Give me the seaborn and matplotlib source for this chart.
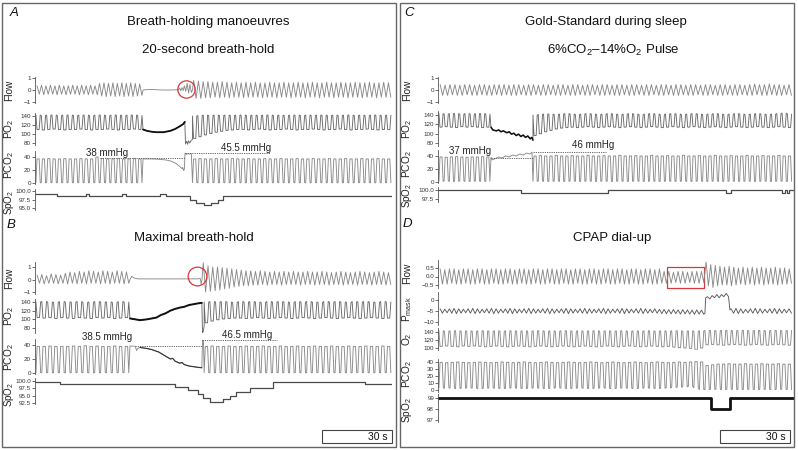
import numpy as np
import pandas as pd
import matplotlib
matplotlib.use("Agg")
import matplotlib.pyplot as plt
import seaborn as sns
from matplotlib.patches import Rectangle

# ---------------- DATA (time in s) ----------------
# Panel A: 20-second breath-hold
flowA_pre_hi = [0.35, 0.4, 0.35, 0.4, 0.35, 0.4, 0.35, 0.35, 0.4, 0.35, 0.4, 0.35, 0.4, 0.35,
                0.55, 0.6, 0.55, 0.6, 0.55, 0.6, 0.55, 0.6, 0.55, 0.5]
flowA_pre_lo = [-0.35, -0.4, -0.35, -0.35, -0.4, -0.35, -0.4, -0.35, -0.35, -0.4, -0.35, -0.4, -0.35, -0.4,
                -0.5, -0.55, -0.5, -0.55, -0.5, -0.55, -0.5, -0.55, -0.5, -0.45]
flowA_hold_t = [46.3, 48, 50, 52, 55, 58, 61.5, 62, 62.5, 63, 63.5, 64, 64.6, 65.2, 65.8, 66.4, 67, 67.5]
flowA_hold_v = [0, 0.03, 0.05, 0.02, 0.0, 0.0, 0.02, 0.15, -0.05, 0.2, -0.05, 0.35, -0.1, 0.55, -0.25, 0.45, -0.2, 0.0]
flowA_post_hi = [0.8, 0.75, 0.7, 0.7, 0.65, 0.65,
                 0.7, 0.65, 0.6, 0.65, 0.6, 0.65,
                 0.6, 0.65, 0.6, 0.6, 0.65, 0.6,
                 0.6, 0.65, 0.6, 0.6, 0.65, 0.6,
                 0.6, 0.65, 0.6, 0.6, 0.65, 0.6,
                 0.6, 0.65, 0.6, 0.6, 0.65, 0.6,
                 0.6, 0.65, 0.6, 0.6, 0.65, 0.6]
flowA_post_lo = [-0.7, -0.7, -0.65, -0.65, -0.6, -0.65,
                 -0.6, -0.65, -0.6, -0.6, -0.65, -0.6,
                 -0.6, -0.6, -0.65, -0.6, -0.6, -0.65,
                 -0.6, -0.6, -0.65, -0.6, -0.6, -0.65,
                 -0.6, -0.6, -0.65, -0.6, -0.6, -0.65,
                 -0.6, -0.6, -0.65, -0.6, -0.6, -0.65,
                 -0.6, -0.6, -0.65, -0.6, -0.6, -0.6]

po2A_pre_hi = [142, 141, 142, 142, 141, 142, 142, 141, 142, 142, 141, 142, 142, 141, 142, 142, 141, 142, 142, 141]
po2A_pre_lo = [110, 109, 110, 111, 110, 109, 110, 110, 111, 110, 109, 110, 110, 111, 110, 109, 110, 110, 111, 110]
po2A_hold_t = [46.3, 48, 50, 52, 55, 58, 60, 62, 63.5, 64.2, 64.5, 65.0, 65.4, 65.8, 66.3, 67.0, 67.5]
po2A_hold_v = [110, 107, 105, 104, 104, 107, 111, 117, 122, 127, 78, 84, 77, 85, 80, 86, 88]
po2A_post_hi = [140, 141, 142, 141, 142, 141,
                142, 141, 142, 142, 141, 142,
                141, 142, 142, 141, 142, 141,
                142, 142, 141, 142, 141, 142,
                142, 141, 142, 141, 142, 142,
                141, 142, 141, 142, 142, 141,
                142]
po2A_post_lo = [90, 94, 98, 101, 104, 106,
                108, 109, 110, 110, 109, 110,
                111, 110, 109, 110, 110, 111,
                110, 109, 110, 110, 111, 110,
                109, 110, 110, 111, 110, 109,
                110, 110, 111, 110, 109, 110,
                110]

pco2A_pre_hi = [37, 37, 37.5, 37, 37, 37.5, 37, 37, 37.5, 37, 37, 40, 37.5, 37, 37, 37.5, 37, 37, 37.5, 37]
pco2A_pre_lo = [0.5, 0.3, 0.5, 0.4, 0.5, 0.3, 0.5, 0.4, 0.5, 0.3, 0.5, 0.4, 0.5, 0.3, 0.5, 0.4, 0.5, 0.3, 0.5, 0.4]
pco2A_hold_t = [46.3, 50, 53, 56, 58, 60, 61.5, 62.5, 63.0, 63.3, 63.7, 64.0, 64.3, 65.0, 65.6, 66.3, 67.0, 67.5]
pco2A_hold_v = [37, 37, 36.5, 35.5, 34, 31, 27, 24, 22, 24, 19, 21, 46, 44, 45.5, 44.5, 45, 0.5]
pco2A_post_hi = [37, 37.5, 37, 37, 37.5, 37,
                 37, 37.5, 37, 37, 37.5, 37,
                 37, 37.5, 37, 37, 37.5, 37,
                 37, 37.5, 37, 37, 37.5, 37,
                 37, 37.5, 37, 37, 37.5, 37,
                 37, 37.5, 37, 37, 37.5, 37,
                 37]
pco2A_post_lo = [0.5, 0.3, 0.5, 0.4, 0.5, 0.3,
                 0.5, 0.4, 0.5, 0.3, 0.5, 0.4,
                 0.5, 0.3, 0.5, 0.4, 0.5, 0.3,
                 0.5, 0.4, 0.5, 0.3, 0.5, 0.4,
                 0.5, 0.3, 0.5, 0.4, 0.5, 0.3,
                 0.5, 0.4, 0.5, 0.3, 0.5, 0.4,
                 0.5]

spo2A_t = [0, 9.4, 21.9, 23.1, 37.3, 39.0, 53.6, 56.1, 66.4, 69.0, 72.5, 75.5, 78.5, 80.5, 153]
spo2A_v = [99.2, 98.4, 99.2, 98.4, 99.2, 98.4, 99.2, 98.4, 97.4, 96.5, 95.8, 96.5, 97.4, 98.4, 98.4]
etco2A = [38, 45.5]

# Panel B: maximal breath-hold
flowB_pre_hi = [0.35, 0.4, 0.3, 0.45, 0.4, 0.35, 0.5, 0.6, 0.55, 0.65, 0.6, 0.7, 0.65, 0.6, 0.7, 0.65, 0.6, 0.7, 0.65, 0.6]
flowB_pre_lo = [-0.3, -0.35, -0.3, -0.3, -0.35, -0.3, -0.35, -0.3, -0.35, -0.3,
                -0.35, -0.3, -0.3, -0.35, -0.3, -0.35, -0.3, -0.3, -0.35, -0.3]
flowB_hold_t = [40.7, 41.5, 42.5, 44, 50, 60, 70, 70.8, 71.2, 71.6]
flowB_hold_v = [0.0, 0.25, 0.12, 0.05, 0.05, 0.05, 0.05, 0.1, -0.35, 0.0]
flowB_post_hi = [1.35, 1.1, 1.0, 1.0, 0.95, 0.9,
                 0.85, 0.8, 0.75, 0.7, 0.7, 0.65,
                 0.7, 0.65, 0.6, 0.65, 0.6, 0.65,
                 0.6, 0.65, 0.6, 0.6, 0.65, 0.6,
                 0.6, 0.65, 0.6, 0.55, 0.6, 0.65,
                 0.6, 0.55, 0.6, 0.65, 0.6, 0.55,
                 0.6, 0.65, 0.6, 0.55]
flowB_post_lo = [-1.0, -0.95, -0.9, -0.85, -0.75, -0.7,
                 -0.6, -0.55, -0.5, -0.5, -0.45, -0.45,
                 -0.4, -0.45, -0.4, -0.4, -0.45, -0.4,
                 -0.4, -0.4, -0.45, -0.4, -0.4, -0.45,
                 -0.4, -0.4, -0.45, -0.4, -0.4, -0.45,
                 -0.4, -0.4, -0.45, -0.4, -0.4, -0.45,
                 -0.4, -0.4, -0.45, -0.4]

po2B_pre_hi = [140, 141, 140, 139, 141, 140, 140, 141, 139, 140, 141, 140, 140, 139, 141, 140]
po2B_pre_lo = [104, 103, 104, 102, 104, 103, 102, 104, 103, 102, 104, 103, 104, 102, 103, 104]
po2B_hold_t = [40.7, 43, 45, 48, 52, 54, 56, 58, 60, 62, 64, 66, 68, 70, 71.5, 71.8, 72.1, 72.5]
po2B_hold_v = [102, 100, 98, 100, 104, 110, 114, 120, 124, 127, 129, 133, 135, 137, 138, 68, 72, 85]
po2B_post_hi = [140, 141, 140, 141, 140, 139,
                141, 140, 141, 140, 139, 141,
                140, 141, 140, 139, 141, 140,
                141, 140, 139, 141, 140, 141,
                140, 139, 141, 140, 141, 140,
                139, 141, 140]
po2B_post_lo = [92, 96, 99, 101, 102, 103,
                103, 102, 103, 104, 103, 102,
                103, 104, 103, 102, 103, 104,
                103, 102, 103, 104, 103, 102,
                103, 104, 103, 102, 103, 104,
                103, 102, 103]

pco2B_pre_hi = [38, 38, 38.5, 38, 38, 38, 38.5, 38, 39, 38, 38.5, 38, 38, 38.5, 38, 38]
pco2B_pre_lo = [0.5, 0.3, 0.5, 0.4, 0.5, 0.3, 0.5, 0.4, 0.5, 0.3, 0.5, 0.4, 0.5, 0.3, 0.5, 0.4]
pco2B_hold_t = [40.7, 42, 43, 43.5, 44, 45, 48, 50, 53, 55, 57, 58, 59, 60, 62, 63, 64, 66, 68, 70, 71.5, 71.8, 72.2, 72.5]
pco2B_hold_v = [38.5, 38.5, 38, 32, 35, 36.5, 35, 33.5, 30, 26, 22, 20, 21, 17, 14, 15, 12, 10, 9, 8, 7.5, 47, 45, 0.5]
pco2B_post_hi = [38, 38.5, 38, 38, 38.5, 38,
                 38, 38.5, 38, 38, 38.5, 38,
                 38, 38.5, 38, 38, 38.5, 38,
                 38, 38.5, 38, 38, 38.5, 38,
                 38, 38.5, 38, 38, 38.5, 38,
                 38, 38.5, 38]
pco2B_post_lo = [0.5, 0.3, 0.5, 0.4, 0.5, 0.3,
                 0.5, 0.4, 0.5, 0.3, 0.5, 0.4,
                 0.5, 0.3, 0.5, 0.4, 0.5, 0.3,
                 0.5, 0.4, 0.5, 0.3, 0.5, 0.4,
                 0.5, 0.3, 0.5, 0.4, 0.5, 0.3,
                 0.5, 0.4, 0.5]

spo2B_t = [0, 10.7, 60, 65.6, 69.9, 72, 75, 80.6, 83.6, 86.1, 92.1, 102, 141.4, 153]
spo2B_v = [99.8, 99.0, 97.8, 96.8, 95.5, 94.3, 93.0, 93.8, 95.0, 96.4, 97.7, 99.8, 99.0, 99.0]
etco2B = [38.5, 46.5]

# Panel C: 6%CO2-14%O2 pulse during sleep
flowC_hi = [0.45, 0.4, 0.45, 0.45, 0.4, 0.45, 0.45, 0.4, 0.45, 0.45, 0.4, 0.45,
            0.45, 0.45, 0.4, 0.45, 0.45, 0.4, 0.45, 0.45, 0.4, 0.45, 0.45, 0.4,
            0.45, 0.45, 0.4, 0.45, 0.45, 0.4, 0.45, 0.45, 0.4, 0.45, 0.45, 0.4,
            0.45, 0.45, 0.4, 0.45, 0.45, 0.4, 0.45, 0.45, 0.4, 0.45, 0.45, 0.4,
            0.45, 0.45, 0.4, 0.45, 0.45, 0.4, 0.45, 0.45, 0.4, 0.45, 0.45, 0.4,
            0.45, 0.45, 0.4, 0.45, 0.5, 0.45, 0.45, 0.5, 0.45, 0.45, 0.4, 0.45]
flowC_lo = [-0.45, -0.45, -0.4, -0.45, -0.45, -0.4, -0.45, -0.45, -0.4, -0.45, -0.45, -0.4,
            -0.45, -0.4, -0.45, -0.45, -0.4, -0.45, -0.45, -0.4, -0.45, -0.45, -0.4, -0.45,
            -0.45, -0.4, -0.45, -0.45, -0.4, -0.45, -0.45, -0.4, -0.45, -0.45, -0.4, -0.45,
            -0.45, -0.4, -0.45, -0.45, -0.4, -0.45, -0.45, -0.4, -0.45, -0.45, -0.4, -0.45,
            -0.45, -0.4, -0.45, -0.45, -0.4, -0.45, -0.45, -0.4, -0.45, -0.45, -0.4, -0.45,
            -0.45, -0.4, -0.45, -0.45, -0.4, -0.45, -0.45, -0.4, -0.45, -0.45, -0.4, -0.45]

po2C_pre_hi = [143, 142, 143, 143, 142, 143, 142, 143, 143, 142]
po2C_pre_lo = [114, 115, 114, 113, 115, 114, 115, 114, 113, 114]
po2C_pulse_t = [22.7, 23.5, 25, 26, 27, 28, 29.5, 30.5, 31.5, 32.5, 33.5, 34.5, 35.5, 36.5, 37.5, 38.5, 39.5, 40.2, 40.7]
po2C_pulse_v = [114, 108, 106, 108, 104, 106, 102, 104, 99, 101, 96, 99, 94, 97, 92, 95, 89, 92, 86]
po2C_post_hi = [140, 141, 142, 142, 141, 142,
                143, 142, 141, 142, 143, 142,
                141, 142, 143, 142, 141, 142,
                143, 142, 141, 142, 143, 142,
                141, 142, 143, 142, 141, 142,
                143, 142, 141, 142, 143, 142,
                141, 142, 143, 142, 141, 142,
                143, 142, 141, 142, 143, 144,
                142]
po2C_post_lo = [96, 100, 104, 107, 110, 112,
                113, 114, 113, 114, 115, 114,
                113, 114, 115, 114, 113, 114,
                115, 114, 113, 114, 115, 114,
                113, 114, 115, 114, 113, 114,
                115, 114, 113, 114, 115, 114,
                113, 114, 115, 114, 113, 114,
                115, 114, 113, 114, 115, 114,
                113]

pco2C_pre_hi = [38.5, 38, 38.5, 39, 38.5, 38, 38.5, 38.5, 39, 38.5]
pco2C_pre_lo = [1, 1.5, 1, 1, 1.5, 1, 1, 1.5, 1, 1]
pco2C_pulse_t = [22.7, 23.2, 24.5, 26, 27.5, 29, 30.5, 32, 33.5, 35, 36.5, 38, 39.5, 40.3, 40.7]
pco2C_pulse_v = [38, 34, 36, 38.5, 37, 40, 38.5, 41.5, 40, 43, 41.5, 44.5, 43, 46, 1]
pco2C_post_hi = [40, 40.5, 40, 40, 41, 40,
                 40, 40.5, 40, 40, 41, 40,
                 40, 40.5, 40, 40, 41, 40,
                 40, 40.5, 40, 40, 41, 40,
                 40, 40.5, 40, 40, 41, 40,
                 40, 40.5, 40, 40, 41, 40,
                 40, 40.5, 40, 40, 41, 40,
                 40, 40.5, 40, 40, 41, 40,
                 40]
pco2C_post_lo = [1, 1.5, 1, 1, 1.5, 1,
                 1, 1.5, 1, 1, 1.5, 1,
                 1, 1.5, 1, 1, 1.5, 1,
                 1, 1.5, 1, 1, 1.5, 1,
                 1, 1.5, 1, 1, 1.5, 1,
                 1, 1.5, 1, 1, 1.5, 1,
                 1, 1.5, 1, 1, 1.5, 1,
                 1, 1.5, 1, 1, 1.5, 1,
                 1]

spo2C_t = [0, 35.6, 72.9, 123.4, 125.6, 147.4, 148.6, 149.4, 150.6, 153]
spo2C_v = [100, 99.2, 100, 99.2, 100, 99.2, 100, 99.2, 100, 100]
etco2C = [37, 46]

# Panel D: CPAP dial-up
flowD_pre_hi = [0.45, 0.4, 0.45, 0.45, 0.4, 0.45, 0.45, 0.4, 0.45, 0.45,
                0.4, 0.45, 0.45, 0.4, 0.45, 0.45, 0.4, 0.45, 0.45, 0.4,
                0.45, 0.45, 0.4, 0.45, 0.45, 0.4, 0.45, 0.45, 0.4, 0.45,
                0.45, 0.4, 0.45, 0.45, 0.4, 0.45, 0.45, 0.4, 0.45, 0.45,
                0.4, 0.45, 0.45, 0.4, 0.45, 0.45, 0.4, 0.45,
                0.3, 0.3, 0.25, 0.3, 0.3, 0.25, 0.3, 0.3, 0.3]
flowD_pre_lo = [-0.45, -0.45, -0.4, -0.45, -0.45, -0.4, -0.45, -0.45, -0.4, -0.45,
                -0.45, -0.4, -0.45, -0.45, -0.4, -0.45, -0.45, -0.4, -0.45, -0.45,
                -0.4, -0.45, -0.45, -0.4, -0.45, -0.45, -0.4, -0.45, -0.45, -0.4,
                -0.45, -0.45, -0.4, -0.45, -0.45, -0.4, -0.45, -0.45, -0.4, -0.45,
                -0.45, -0.4, -0.45, -0.45, -0.4, -0.45, -0.45, -0.4,
                -0.4, -0.4, -0.35, -0.4, -0.4, -0.35, -0.4, -0.4, -0.35]
flowD_post_hi = [0.85, 0.7, 0.65, 0.6, 0.55, 0.6, 0.55, 0.5, 0.55, 0.5,
                 0.55, 0.5, 0.55, 0.5, 0.5, 0.55, 0.5, 0.5, 0.45]
flowD_post_lo = [-0.55, -0.65, -0.55, -0.5, -0.5, -0.55, -0.5, -0.45, -0.5, -0.45,
                 -0.5, -0.45, -0.5, -0.45, -0.45, -0.5, -0.45, -0.45, -0.4]

pmD_pre_hi = [-4.0, -4.2, -4.0, -3.8, -4.0, -4.2, -4.0, -3.8, -4.0, -4.2,
              -4.0, -3.8, -4.0, -4.2, -4.0, -3.8, -4.0, -4.2, -4.0, -3.8,
              -4.0, -4.2, -4.0, -3.8, -4.0, -4.2, -4.0, -3.8, -4.0, -4.2,
              -4.0, -3.8, -4.0, -4.2, -4.0, -3.8, -4.0, -4.2, -4.0, -3.8,
              -4.0, -4.2, -4.0, -3.8, -4.0, -4.2, -4.0, -4.2,
              -4.3, -4.4, -4.3, -4.5, -4.4, -4.5, -4.6, -4.5, -4.6]
pmD_pre_lo = [-6.0, -5.8, -6.0, -6.2, -6.0, -5.8, -6.0, -6.2, -6.0, -5.8,
              -6.0, -6.2, -6.0, -5.8, -6.0, -6.2, -6.0, -5.8, -6.0, -6.2,
              -6.0, -5.8, -6.0, -6.2, -6.0, -5.8, -6.0, -6.2, -6.0, -5.8,
              -6.0, -6.2, -6.0, -5.8, -6.0, -6.2, -6.0, -5.8, -6.0, -6.2,
              -6.0, -5.8, -6.0, -6.2, -6.0, -5.8, -6.0, -6.2,
              -6.2, -6.3, -6.2, -6.4, -6.3, -6.4, -6.5, -6.4, -6.5]
pmD_cpap_t = [114.4, 114.7, 115.5, 116.5, 117.5, 118.5, 119.5, 120.5, 121.5, 122.5, 123.5, 124.5, 125.1]
pmD_cpap_v = [-6.0, 1.0, 1.5, 0.5, 2.0, 1.0, 2.5, 1.0, 2.5, 1.5, 3.0, 1.5, -4.5]
pmD_post_hi = [-4.0, -3.8, -4.0, -4.2, -4.0, -3.8, -4.0, -4.2, -4.0, -3.8, -4.0, -4.2, -4.0]
pmD_post_lo = [-6.0, -6.2, -6.0, -5.8, -6.0, -6.2, -6.0, -5.8, -6.0, -6.2, -6.0, -5.8, -6.0]

o2D_pre_hi = [143, 142, 143, 143, 142, 143, 142, 143, 143, 142, 143, 142,
              143, 143, 142, 143, 142, 143, 143, 142, 143, 142, 143, 143,
              142, 143, 142, 143, 143, 142, 143, 142, 143, 143, 142, 143,
              142, 143, 143, 142, 143, 142, 143, 143, 142, 143, 142, 143]
o2D_pre_lo = [104, 105, 104, 103, 105, 104, 105, 104, 103, 104, 105, 104,
              103, 104, 105, 104, 103, 104, 105, 104, 103, 104, 105, 104,
              103, 104, 105, 104, 103, 104, 105, 104, 103, 104, 105, 104,
              103, 104, 105, 104, 103, 104, 102, 101, 100, 99, 95, 100]
o2D_post_hi = [144, 144, 143, 144, 144, 143, 144, 144, 143, 144, 144, 143, 144, 144, 143, 144]
o2D_post_lo = [108, 109, 108, 107, 108, 109, 108, 107, 108, 109, 108, 107, 108, 109, 108, 107]

pco2D_pre_hi = [39.5, 39, 39.5, 40, 39.5, 39, 39.5, 40, 39.5, 39, 39.5, 40,
                39.5, 39, 39.5, 40, 39.5, 39, 39.5, 40, 39.5, 39, 39.5, 40,
                39.5, 39, 39.5, 40, 39.5, 39, 39.5, 40, 39.5, 39, 39.5, 40,
                39.5, 39, 39.5, 40, 39.5, 39, 39.5, 40, 39.5, 40, 40.5, 40]
pco2D_pre_lo = [2.5, 3, 2.5, 2, 2.5, 3, 2.5, 2, 2.5, 3, 2.5, 2,
                2.5, 3, 2.5, 2, 2.5, 3, 2.5, 2, 2.5, 3, 2.5, 2,
                2.5, 3, 2.5, 2, 2.5, 3, 2.5, 2, 2.5, 3, 2.5, 2,
                2.5, 3, 2.5, 2, 2.5, 3, 3.5, 4, 4.5, 5, 3, 0.5]
pco2D_post_hi = [35, 36, 37, 37, 37.5, 37, 37, 37.5, 37, 37, 37.5, 37, 37, 37.5, 37, 37]
pco2D_post_lo = [0.5, 1, 1, 0.5, 1, 1, 0.5, 1, 1, 0.5, 1, 1, 0.5, 1, 1, 0.5]

spo2D_t = [0, 117, 125, 153]
spo2D_v = [99.0, 98.0, 99.0, 99.0]

# ---------------- STYLE / LAYOUT ----------------
sns.set_theme(style="white")
plt.rcParams["font.family"] = ["Liberation Sans", "DejaVu Sans"]
plt.rcParams["mathtext.fontset"] = "custom"
plt.rcParams["mathtext.rm"] = "Liberation Sans"
plt.rcParams["mathtext.it"] = "Liberation Sans:italic"
plt.rcParams["mathtext.bf"] = "Liberation Sans:bold"

W, H = 798, 450
fig = plt.figure(figsize=(W / 100, H / 100), dpi=100)
fig.patch.set_facecolor("white")

GREY = "#8a8a8a"
PO2C = "#6a6a6a"
DARK = "#4a4a4a"
RED = "#d6393b"
XMAX = 153
AXW = 357

SHAPES = {
    "flow": [(0.25, 1), (0.75, 0)],
    "co2": [(0.0, 0), (0.2, 1), (0.6, 1), (0.8, 0)],
    "o2": [(0.0, 1), (0.2, 0), (0.6, 0), (0.8, 1)],
}


def cyc(t0, t1, hi, lo, kind):
    n = min(len(hi), len(lo))
    T = (t1 - t0) / n
    ts, vs = [], []
    for i in range(n):
        for f, which in SHAPES[kind]:
            ts.append(t0 + (i + f) * T)
            vs.append(hi[i] if which else lo[i])
    return ts, vs


def join(*segs):
    ts, vs = [], []
    for s in segs:
        ts += list(s[0])
        vs += list(s[1])
    return pd.DataFrame({"t": ts, "v": vs})


def mkax(x0, p1, p2, ylim, ticks, labels, ylabel, lab_x, lab_y=None, lab_fs=7.3):
    (v1, y1), (v2, y2) = p1, p2
    s = (y2 - y1) / (v2 - v1)
    ytop = y1 + (ylim[1] - v1) * s
    ybot = y1 + (ylim[0] - v1) * s
    ax = fig.add_axes([x0 / W, 1 - ybot / H, AXW / W, (ybot - ytop) / H])
    ax._cfg = (ylim, ticks, labels)
    cy = (ytop + ybot) / 2 if lab_y is None else lab_y
    fig.text(lab_x / W, 1 - cy / H, ylabel, rotation=90,
             ha="center", va="center", fontsize=lab_fs, color="#222")
    return ax


def finish(ax):
    ylim, ticks, labels = ax._cfg
    ax.set_xlim(0, XMAX)
    ax.set_ylim(*ylim)
    ax.patch.set_visible(False)
    for sp in ["top", "right", "bottom"]:
        ax.spines[sp].set_visible(False)
    ax.spines["left"].set_linewidth(0.6)
    ax.spines["left"].set_color("#555")
    ax.set_xticks([])
    ax.set_yticks(ticks)
    ax.set_yticklabels(labels)
    ax.tick_params(axis="y", length=2, width=0.5, pad=0.8, labelsize=4.5,
                   colors="#333", left=True)
    ax.set_xlabel("")
    ax.set_ylabel("")


def line(ax, df, color=GREY, lw=0.65, **kw):
    sns.lineplot(data=df, x="t", y="v", ax=ax, estimator=None, sort=False,
                 color=color, linewidth=lw, **kw)


def etco2_marks(ax, vals, spans, texts):
    for v, (a, b) in zip(vals, spans):
        ax.hlines(v, a, b, colors="#555", linestyles=(0, (1.5, 1.2)), lw=0.6)
    for v, (tx, ty) in zip(vals, texts):
        ax.text(tx, ty, f"{v:g} mmHg", ha="center", va="center", fontsize=7,
                color="#222", clip_on=False)


LX, RX = 35, 438
LLAB, RLAB = 9.5, 407
m = "\u2212"

# ---- Panel A ----
axA1 = mkax(LX, (1, 78), (-1, 102), (-1.1, 1.1), [1, 0, -1], ["1", "0", m + "1"], "Flow", LLAB)
line(axA1, join(cyc(0.4, 46.3, flowA_pre_hi, flowA_pre_lo, "flow"), (flowA_hold_t, flowA_hold_v),
                cyc(67.5, 153, flowA_post_hi, flowA_post_lo, "flow")))
axA1.plot([64.8], [0.1], marker="o", ms=12.5, mfc="none", mec=RED, mew=0.9)
finish(axA1)

axA2 = mkax(LX, (140, 116), (80, 143), (75, 146), [140, 120, 100, 80], ["140", "120", "100", "80"], "PO$_2$", LLAB)
line(axA2, join(cyc(0.4, 46.3, po2A_pre_hi, po2A_pre_lo, "o2"), (po2A_hold_t, po2A_hold_v),
                cyc(67.5, 153, po2A_post_hi, po2A_post_lo, "o2")), color=PO2C)
line(axA2, join((po2A_hold_t[:10], po2A_hold_v[:10])), color="#111", lw=1.3)
finish(axA2)

axA3 = mkax(LX, (40, 157), (0, 183), (-1.5, 50), [40, 20, 0], ["40", "20", "0"], "PCO$_2$", LLAB, 165)
line(axA3, join(cyc(0.4, 46.3, pco2A_pre_hi, pco2A_pre_lo, "co2"), (pco2A_hold_t, pco2A_hold_v),
                cyc(67.5, 153, pco2A_post_hi, pco2A_post_lo, "co2")))
etco2_marks(axA3, etco2A, [(27.9, 64.3), (64.3, 100.7)], [(30.8, 46.2), (90.4, 53.8)])
finish(axA3)

axA4 = mkax(LX, (100, 191), (95, 208), (94.4, 100.6), [100, 97.5, 95], ["100.0", "97.5", "95.0"],
            "SpO$_2$", LLAB, 202, 7.0)
line(axA4, join((spo2A_t, spo2A_v)), color=DARK, lw=0.9, drawstyle="steps-post")
finish(axA4)

# ---- Panel B ----
axB1 = mkax(LX, (1, 267), (-1, 292), (-1.15, 1.4), [1, 0, -1], ["1", "0", m + "1"], "Flow", LLAB)
line(axB1, join(cyc(0.4, 40.7, flowB_pre_hi, flowB_pre_lo, "flow"), (flowB_hold_t, flowB_hold_v),
                cyc(71.6, 153, flowB_post_hi, flowB_post_lo, "flow")))
axB1.plot([69.4], [0.28], marker="o", ms=13.5, mfc="none", mec=RED, mew=0.9)
finish(axB1)

axB2 = mkax(LX, (140, 302), (80, 328), (68, 148), [140, 120, 100, 80], ["140", "120", "100", "80"], "PO$_2$", LLAB)
line(axB2, join(cyc(0.4, 40.7, po2B_pre_hi, po2B_pre_lo, "o2"), (po2B_hold_t, po2B_hold_v),
                cyc(72.5, 153, po2B_post_hi, po2B_post_lo, "o2")), color=PO2C)
line(axB2, join((po2B_hold_t[:15], po2B_hold_v[:15])), color="#111", lw=1.4)
finish(axB2)

axB3 = mkax(LX, (40, 345), (0, 373), (-1.5, 48), [40, 20, 0], ["40", "20", "0"], "PCO$_2$", LLAB, 357)
line(axB3, join(cyc(0.4, 40.7, pco2B_pre_hi, pco2B_pre_lo, "co2"), (pco2B_hold_t, pco2B_hold_v),
                cyc(72.5, 153, pco2B_post_hi, pco2B_post_lo, "co2")))
line(axB3, join((pco2B_hold_t[5:21], pco2B_hold_v[5:21])), color="#333", lw=0.8)
etco2_marks(axB3, etco2B, [(42.9, 71.6), (71.6, 103.7)], [(30.8, 51.4), (90.9, 54.3)])
finish(axB3)

axB4 = mkax(LX, (100, 381), (92.5, 403), (92.0, 101.0), [100, 97.5, 95, 92.5],
            ["100.0", "97.5", "95.0", "92.5"], "SpO$_2$", LLAB, 394, 7.0)
line(axB4, join((spo2B_t, spo2B_v)), color=DARK, lw=0.9, drawstyle="steps-post")
finish(axB4)

# ---- Panel C ----
axC1 = mkax(RX, (1, 78), (-1, 102), (-1.1, 1.1), [1, 0, -1], ["1", "0", m + "1"], "Flow", RLAB)
line(axC1, join(cyc(0.4, 152, flowC_hi, flowC_lo, "flow")))
finish(axC1)

axC2 = mkax(RX, (140, 115), (80, 143), (74, 148), [140, 120, 100, 80], ["140", "120", "100", "80"], "PO$_2$", RLAB)
line(axC2, join(cyc(0.4, 22.7, po2C_pre_hi, po2C_pre_lo, "o2"), (po2C_pulse_t, po2C_pulse_v),
                cyc(40.7, 152, po2C_post_hi, po2C_post_lo, "o2")), color=PO2C)
line(axC2, join((po2C_pulse_t, po2C_pulse_v)), color="#111", lw=1.1)
finish(axC2)

axC3 = mkax(RX, (40, 156), (0, 182), (-1.5, 49), [40, 20, 0], ["40", "20", "0"], "PCO$_2$", RLAB, 164)
line(axC3, join(cyc(0.4, 22.7, pco2C_pre_hi, pco2C_pre_lo, "co2"), (pco2C_pulse_t, pco2C_pulse_v),
                cyc(40.7, 152, pco2C_post_hi, pco2C_post_lo, "co2")))
etco2_marks(axC3, etco2C, [(22.7, 40.7), (40.7, 72.0)], [(13.7, 47.7), (66.4, 56.9)])
finish(axC3)

axC4 = mkax(RX, (100, 190), (97.5, 199), (96.7, 100.8), [100, 97.5], ["100.0", "97.5"], "SpO$_2$", RLAB, 195, 7.0)
line(axC4, join((spo2C_t, spo2C_v)), color=DARK, lw=0.9, drawstyle="steps-post")
finish(axC4)

# ---- Panel D ----
axD1 = mkax(RX, (0.5, 268), (-0.5, 285), (-0.68, 1.0), [0.5, 0, -0.5], ["0.5", "0.0", m + "0.5"], "Flow", RLAB)
line(axD1, join(cyc(0.4, 114.4, flowD_pre_hi, flowD_pre_lo, "flow"),
                cyc(114.4, 152, flowD_post_hi, flowD_post_lo, "flow")))
axD1.add_patch(Rectangle((98.1, -0.68), 15.9, 1.24, fill=False, ec=RED, lw=0.9, clip_on=False))
finish(axD1)

axD2 = mkax(RX, (0, 300), (-10, 322), (-11.4, 3.6), [0, -5, -10], ["0", m + "5", m + "10"], "P$_{\\rm mask}$", RLAB)
line(axD2, join(cyc(0.4, 114.4, pmD_pre_hi, pmD_pre_lo, "flow"), (pmD_cpap_t, pmD_cpap_v),
                cyc(125.1, 152, pmD_post_hi, pmD_post_lo, "flow")), color="#5a5a5a")
finish(axD2)

axD3 = mkax(RX, (140, 332), (100, 348), (96, 150), [140, 120, 100], ["140", "120", "100"], "O$_2$", RLAB)
line(axD3, join(cyc(0.4, 114.4, o2D_pre_hi, o2D_pre_lo, "o2"),
                cyc(114.4, 152, o2D_post_hi, o2D_post_lo, "o2")))
finish(axD3)

axD4 = mkax(RX, (40, 362), (0, 390), (-2.9, 45), [40, 30, 20, 10, 0], ["40", "30", "20", "10", "0"],
            "PCO$_2$", RLAB, 374)
line(axD4, join(cyc(0.4, 114.4, pco2D_pre_hi, pco2D_pre_lo, "co2"),
                cyc(114.4, 152, pco2D_post_hi, pco2D_post_lo, "co2")))
finish(axD4)

axD5 = mkax(RX, (99, 398), (97, 420), (96.8, 99.4), [99, 98, 97], ["99", "98", "97"], "SpO$_2$", RLAB, 410)
line(axD5, join((spo2D_t, spo2D_v)), color="#111", lw=2.0, drawstyle="steps-post")
finish(axD5)

# ---------------- TEXT & FRAMES ----------------
def ftxt(x, y, s, **kw):
    fig.text(x / W, 1 - y / H, s, ha="center", va="center", color="#111", **kw)

ftxt(208, 22, "Breath-holding manoeuvres", fontsize=9.5)
ftxt(208, 50, "20-second breath-hold", fontsize=9.5)
ftxt(194, 238, "Maximal breath-hold", fontsize=9.5)
ftxt(606, 22, "Gold-Standard during sleep", fontsize=9.5)
ftxt(613, 50, "6%CO$_2$\u201314%O$_2$ Pulse", fontsize=9.5)
ftxt(612, 238, "CPAP dial-up", fontsize=9.5)
ftxt(14, 13, "A", fontsize=9.5, style="italic")
ftxt(11, 225, "B", fontsize=9.5, style="italic")
ftxt(409, 13, "C", fontsize=9.5, style="italic")
ftxt(407, 224, "D", fontsize=9.5, style="italic")

for x0 in (2, 400):
    fig.add_artist(Rectangle((x0 / W, 3 / H), 394 / W, 444 / H, transform=fig.transFigure,
                             fill=False, ec="#666", lw=1.0))
for x0 in (322, 720):
    fig.add_artist(Rectangle((x0 / W, 1 - 443 / H), 70 / W, 13 / H, transform=fig.transFigure,
                             fill=False, ec="#444", lw=0.8))
    fig.text((x0 + 66) / W, 1 - 436.5 / H, "30 s", ha="right", va="center", fontsize=7.5, color="#111")

fig.savefig("out.png", dpi=100, facecolor="white")
